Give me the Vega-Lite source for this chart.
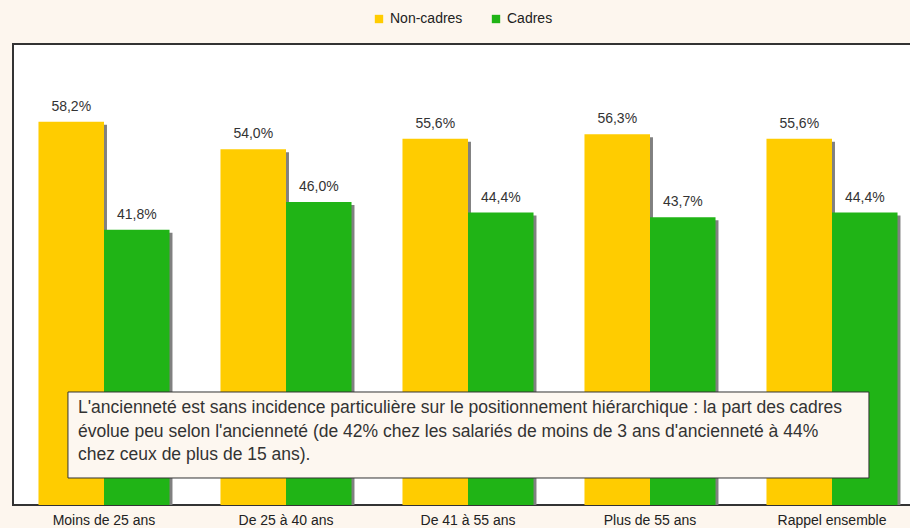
{
  "$schema": "https://vega.github.io/schema/vega-lite/v6.json",
  "width": 910,
  "height": 461,
  "autosize": {"type": "none"},
  "padding": {"left": 13, "top": 44, "right": 0, "bottom": 23},
  "background": "#FDF6EE",
  "config": {
    "font": "Liberation Sans",
    "view": {"fill": "white", "stroke": "#333333", "strokeWidth": 2}
  },
  "datasets": {
    "bars": [
      {"groupe": "Moins de 25 ans", "statut": "Non-cadres", "part": 58.2, "label": "58,2%"},
      {"groupe": "Moins de 25 ans", "statut": "Cadres", "part": 41.8, "label": "41,8%"},
      {"groupe": "De 25 à 40 ans", "statut": "Non-cadres", "part": 54.0, "label": "54,0%"},
      {"groupe": "De 25 à 40 ans", "statut": "Cadres", "part": 46.0, "label": "46,0%"},
      {"groupe": "De 41 à 55 ans", "statut": "Non-cadres", "part": 55.6, "label": "55,6%"},
      {"groupe": "De 41 à 55 ans", "statut": "Cadres", "part": 44.4, "label": "44,4%"},
      {"groupe": "Plus de 55 ans", "statut": "Non-cadres", "part": 56.3, "label": "56,3%"},
      {"groupe": "Plus de 55 ans", "statut": "Cadres", "part": 43.7, "label": "43,7%"},
      {"groupe": "Rappel ensemble", "statut": "Non-cadres", "part": 55.6, "label": "55,6%"},
      {"groupe": "Rappel ensemble", "statut": "Cadres", "part": 44.4, "label": "44,4%"}
    ],
    "box": [{"x1": 0.302, "x2": 4.703, "y1": 17.16, "y2": 4.1}],
    "note": [
      {"t": "L'ancienneté est sans incidence particulière sur le positionnement hiérarchique : la part des cadres", "x": 0.357, "y": 14.73},
      {"t": "évolue peu selon l'ancienneté (de 42% chez les salariés de moins de 3 ans d'ancienneté à 44%", "x": 0.357, "y": 11.08},
      {"t": "chez ceux de plus de 15 ans).", "x": 0.357, "y": 7.59}
    ]
  },
  "layer": [
    {
      "data": {"name": "bars"},
      "encoding": {
        "x": {
          "field": "groupe", "type": "nominal", "sort": null,
          "scale": {"paddingInner": 0.28, "paddingOuter": 0.14},
          "axis": {"title": null, "labelAngle": 0, "ticks": false, "domain": false, "labelPadding": 8, "labelFontSize": 14, "labelColor": "#222222"}
        },
        "y": {"field": "part", "type": "quantitative", "scale": {"domain": [0, 70]}, "axis": null}
      },
      "layer": [
        {
          "mark": {"type": "bar", "color": "#808080", "yOffset": 3, "clip": true},
          "encoding": {
            "xOffset": {"field": "statut", "type": "nominal", "sort": ["Non-cadres", "Cadres"], "scale": {"range": [3, 134]}}
          }
        },
        {
          "layer": [
            {
              "mark": {"type": "bar"},
              "encoding": {
                "color": {
                  "field": "statut", "type": "nominal",
                  "scale": {"domain": ["Non-cadres", "Cadres"], "range": ["#FFCC00", "#20B416"]},
                  "legend": {
                    "title": null, "orient": "none", "direction": "horizontal",
                    "legendX": 359, "legendY": -32, "symbolType": "square", "symbolSize": 70,
                    "symbolStrokeWidth": 0, "labelFontSize": 14, "labelColor": "#222222", "columnPadding": 26
                  }
                }
              }
            },
            {
              "mark": {"type": "text", "baseline": "bottom", "dy": -8, "fontSize": 14, "color": "#333333"},
              "encoding": {"text": {"field": "label"}}
            }
          ],
          "encoding": {
            "xOffset": {"field": "statut", "type": "nominal", "sort": ["Non-cadres", "Cadres"]}
          }
        }
      ],
      "resolve": {"scale": {"xOffset": "independent"}}
    },
    {
      "layer": [
        {
          "data": {"name": "box"},
          "mark": {"type": "rect", "fill": "#FDF7F0", "stroke": "#333333", "strokeWidth": 1},
          "encoding": {
            "x": {"field": "x1", "type": "quantitative", "scale": {"domain": [0, 5]}, "axis": null},
            "x2": {"field": "x2"},
            "y": {"field": "y1", "type": "quantitative"},
            "y2": {"field": "y2"}
          }
        },
        {
          "data": {"name": "note"},
          "mark": {"type": "text", "align": "left", "baseline": "middle", "fontSize": 17.5, "color": "#333333"},
          "encoding": {
            "x": {"field": "x", "type": "quantitative", "scale": {"domain": [0, 5]}, "axis": null},
            "y": {"field": "y", "type": "quantitative"},
            "text": {"field": "t"}
          }
        }
      ]
    }
  ],
  "resolve": {"scale": {"x": "independent"}}
}
